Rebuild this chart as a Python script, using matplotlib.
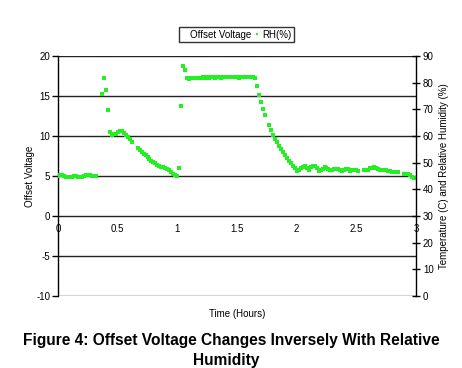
import matplotlib
matplotlib.use("Agg")
import matplotlib.pyplot as plt
from matplotlib.lines import Line2D

plt.rcParams['font.family'] = ['Liberation Sans', 'DejaVu Sans']
plt.rcParams['axes.unicode_minus'] = False

# ---- data ----
time_min = [0, 1, 2, 3, 4, 5, 6, 7, 8, 9, 10, 11, 12, 13, 14, 15, 16, 17, 18, 19,
            22, 23, 24, 25, 26, 27, 28, 29, 30, 31, 32, 33, 34, 35, 36, 37,
            40, 41, 42, 43, 44, 45, 46, 47, 48, 49, 50, 51, 52, 53, 54, 55, 56, 57, 58, 59,
            60, 61, 62, 63, 64, 65, 66, 67, 68, 69, 70,
            72, 73, 74, 75, 76, 77, 78, 79, 80, 81, 82, 83, 84, 85, 86,
            88, 89, 90, 91, 92, 93, 94, 95, 96, 97, 98, 99, 100, 101, 102, 103, 104,
            106, 107, 108, 109, 110, 111, 112, 113, 114, 115, 116, 117, 118, 119, 120,
            121, 122, 123, 124, 125, 126, 127, 128, 129, 130, 131, 132, 133, 134, 135,
            136, 137, 138, 139, 140, 141, 142, 143, 144, 145, 146, 147, 148, 149, 150, 151,
            154, 155, 156, 157, 158, 159, 160, 161, 162, 163, 164, 165, 166, 167, 168,
            169, 170, 171,
            174, 175, 176, 177, 178, 179]

rh_pct = [45.0, 45.2, 45.4, 45.0, 44.8, 44.6, 44.5, 44.8, 45.0, 45.0, 44.8, 44.5, 44.8, 45.0, 45.2, 45.4, 45.2, 45.0, 45.0, 45.0,
          75.8, 81.9, 77.3, 69.6, 61.5, 60.3, 60.8, 60.6, 61.5, 61.8, 61.7, 61.2, 60.5, 59.7, 58.7, 57.9,
          55.4, 54.8, 54.1, 53.4, 52.7, 52.1, 51.4, 50.7, 50.3, 49.8, 49.2, 48.8, 48.5, 48.2, 47.9, 47.6, 47.3, 46.6, 45.9, 45.3,
          44.9, 47.9, 71.1, 86.4, 84.9, 81.6, 81.2, 81.6, 81.9, 81.9, 81.9,
          81.9, 82.1, 81.9, 82.1, 81.9, 82.2, 82.1, 81.9, 82.1, 82.2, 81.9, 82.1, 82.2, 82.1, 82.1,
          82.1, 82.2, 82.1, 81.9, 82.1, 82.1, 82.2, 82.2, 82.1, 82.1, 82.0, 81.9, 78.8, 75.3, 72.9, 70.2, 67.8,
          64.2, 62.3, 60.3, 58.8, 57.6, 56.4, 55.2, 53.9, 52.7, 51.6, 50.6, 49.7, 48.9, 47.9, 46.8,
          47.1, 47.9, 48.5, 48.8, 47.9, 47.3, 48.2, 48.9, 48.6, 47.9, 47.0, 47.3, 47.8, 48.2, 47.9,
          47.5, 47.4, 47.3, 47.5, 47.5, 47.6, 47.3, 46.9, 47.3, 47.5, 47.5, 47.0, 47.1, 47.4, 47.1, 46.7,
          47.4, 47.4, 47.4, 47.9, 48.0, 48.4, 47.9, 47.5, 47.3, 47.3, 47.3, 47.1, 46.9, 46.7, 46.5,
          46.4, 46.4, 46.4,
          45.9, 45.9, 45.8, 45.2, 44.8, 44.1]

time_hours = [m / 60.0 for m in time_min]

x_ticks = [0, 0.5, 1, 1.5, 2, 2.5, 3]
x_ticklabels = ['0', '0.5', '1', '1.5', '2', '2.5', '3']
left_ticks = [-10, -5, 0, 5, 10, 15, 20]
right_ticks = [0, 10, 20, 30, 40, 50, 60, 70, 80, 90]

green = '#22f022'

fig = plt.figure(figsize=(4.62, 3.68), dpi=100)
ax = fig.add_axes([58/462, 1-296/368, (416-58)/462, (296-56)/368])
ax2 = ax.twinx()

ax.set_xlim(0, 3)
ax.set_ylim(-10, 20)
ax.set_yticks(left_ticks)
ax.set_xticks(x_ticks)
ax.set_xticklabels(x_ticklabels)
ax.yaxis.grid(True, color='#222222', linewidth=1.0)
ax.set_axisbelow(True)

for s in ['top', 'right']:
    ax.spines[s].set_visible(False)
ax.spines['bottom'].set_position(('data', 0))
ax.spines['bottom'].set_color('none')
ax.spines['left'].set_color('black')
ax.spines['left'].set_linewidth(1.0)

ax.tick_params(axis='x', length=0, pad=6, labelsize=7)
ax.tick_params(axis='y', direction='out', length=4, width=1, pad=1.5, labelsize=7)

ax2.set_ylim(0, 90)
ax2.set_yticks(right_ticks)
for s in ['top', 'bottom', 'left']:
    ax2.spines[s].set_visible(False)
ax2.spines['right'].set_color('black')
ax2.spines['right'].set_linewidth(1.0)
ax2.tick_params(axis='y', direction='inout', length=6, width=1, pad=2, labelsize=7)

ax2.plot(time_hours, rh_pct, linestyle='none', marker='s', markersize=2.2,
         color=green, markeredgewidth=0, label='RH(%)')

ax.set_ylabel('Offset Voltage', fontsize=7, labelpad=1)
ax2.set_ylabel('Temperature (C) and Relative Humidity (%)', fontsize=7, labelpad=4)
fig.text(237/462, 1-314/368, 'Time (Hours)', fontsize=7, ha='center', va='center')

handles = [Line2D([], [], linestyle='none', marker=None),
           Line2D([], [], linestyle='none', marker='s', markersize=2.0,
                  color=green, markeredgewidth=0)]
leg = fig.legend(handles, ['Offset Voltage', 'RH(%)'], ncol=2, fontsize=7,
                 loc='center', bbox_to_anchor=(236.5/462, 1-34.5/368),
                 frameon=True, fancybox=False, handlelength=0.6,
                 handletextpad=0.3, columnspacing=0.3, borderpad=0.25,
                 borderaxespad=0)
leg.get_frame().set_edgecolor('black')
leg.get_frame().set_linewidth(1.0)

fig.text(231/462, 1-341/368, 'Figure 4: Offset Voltage Changes Inversely With Relative',
         fontsize=11.2, fontweight='bold', ha='center', va='center')
fig.text(226/462, 1-360/368, 'Humidity',
         fontsize=11.2, fontweight='bold', ha='center', va='center')

fig.savefig('out.png', dpi=100)
